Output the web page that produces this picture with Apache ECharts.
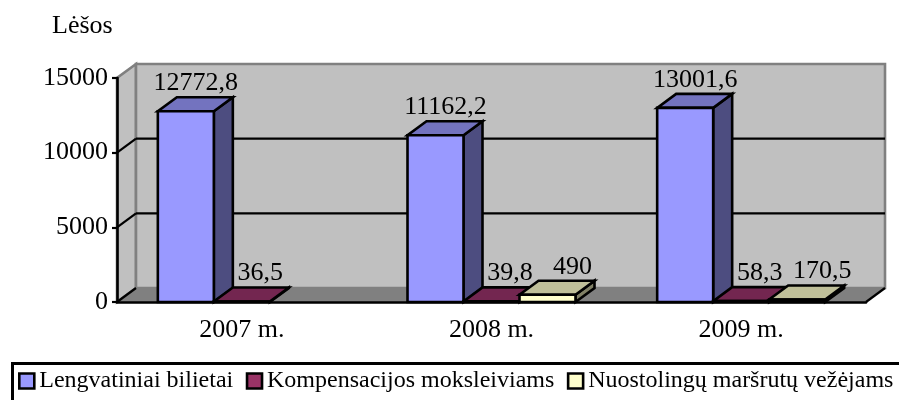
<!DOCTYPE html>
<html><head><meta charset="utf-8">
<style>html,body{margin:0;padding:0;background:#fff}#c{width:899px;height:400px}</style>
<script src="https://cdn.jsdelivr.net/npm/echarts@6/dist/echarts.min.js"></script>
</head><body><div id="c"></div>
<script>
const categories = ['2007 m.', '2008 m.', '2009 m.'];
const lengvatiniai = [12772.8, 11162.2, 13001.6];
const kompensacijos = [36.5, 39.8, 58.3];
const nuostolingu = [null, 490, 170.5];
const yTicks = [0, 5000, 10000, 15000];
const names = ['Lengvatiniai bilietai', 'Kompensacijos moksleiviams', 'Nuostolingų maršrutų vežėjams'];

const FONT = '"Liberation Serif","Times New Roman",serif';
const DX = 19, DY = -14;
const barFrac = 56 / 249.67;
const labelFontSize = 26;
const EDGE = 2.6;

function poly(points, fill, stroke, w) {
  return { type: 'polygon', shape: { points }, style: { fill, stroke: stroke || 'none', lineWidth: w || 0, lineJoin: 'miter' } };
}
function line(a, b, stroke, w) {
  return { type: 'line', shape: { x1: a[0], y1: a[1], x2: b[0], y2: b[1] }, style: { stroke, lineWidth: w } };
}
function renderWalls(params, api) {
  const x0 = api.coord([0, 0])[0] - api.size([1, 0])[0] / 2;
  const x1 = x0 + api.size([1, 0])[0] * categories.length;
  const y0 = api.coord([0, 0])[1];
  const yT = api.coord([0, yTicks[yTicks.length - 1]])[1];
  const ch = [
    poly([[x0, y0], [x0 + DX, y0 + DY], [x0 + DX, yT + DY], [x0, yT]], '#C0C0C0', '#808080', 2.6),
    poly([[x0 + DX, yT + DY], [x1 + DX, yT + DY], [x1 + DX, y0 + DY], [x0 + DX, y0 + DY]], '#C0C0C0', '#808080', 2.6),
    poly([[x0, y0], [x1, y0], [x1 + DX, y0 + DY], [x0 + DX, y0 + DY]], '#808080', '#808080', 1)
  ];
  yTicks.slice(1, -1).forEach(v => {
    const y = api.coord([0, v])[1];
    ch.push(line([x0, y], [x0 + DX, y + DY], '#000', 2.2));
    ch.push(line([x0 + DX, y + DY], [x1 + DX, y + DY], '#000', 2.2));
  });
  ch.push(line([x0, y0], [x0 + DX, y0 + DY], '#000', 2.2));
  ch.push(line([x1, y0], [x1 + DX, y0 + DY], '#000', 2.2));
  return { type: 'group', children: ch };
}
function barRenderer(idx, front, top, side, labelShift) {
  return function (params, api) {
    const cat = api.value(0), v = api.value(1);
    if (v == null || isNaN(v)) return;
    const c = api.coord([cat, v]), b = api.coord([cat, 0]);
    const w = api.size([1, 0])[0] * barFrac;
    const xl = c[0] - 1.5 * w + idx * w, xr = xl + w;
    const yt = c[1], yb = b[1];
    const t = String(v).replace('.', ',');
    return { type: 'group', children: [
      poly([[xr, yb], [xr + DX, yb + DY], [xr + DX, yt + DY], [xr, yt]], side, '#000', EDGE),
      poly([[xl, yt], [xr, yt], [xr + DX, yt + DY], [xl + DX, yt + DY]], top, '#000', EDGE),
      poly([[xl, yt], [xr, yt], [xr, yb], [xl, yb]], front, '#000', EDGE),
      { type: 'text', style: { text: t, x: xl + w / 2 + labelShift, y: yt + DY - 14, align: 'center', verticalAlign: 'middle',
        font: labelFontSize + 'px ' + FONT, fill: '#000' } }
    ] };
  };
}
function barSeries(idx, name, values, front, top, side, labelShift) {
  return { type: 'custom', name, z: 3 + idx, clip: false,
    itemStyle: { color: front },
    encode: { x: 0, y: 1 },
    data: values.map((v, i) => [i, v]),
    renderItem: barRenderer(idx, front, top, side, labelShift) };
}
const chart = echarts.init(document.getElementById('c'), null, { renderer: 'canvas' });
chart.setOption({
  animation: false,
  backgroundColor: '#fff',
  textStyle: { fontFamily: FONT, color: '#000' },
  grid: { left: 117, right: 33, top: 78, bottom: 98 },
  xAxis: { type: 'category', data: categories, z: 10,
    axisLine: { lineStyle: { color: '#000', width: 2.6 } },
    axisTick: { alignWithLabel: false, length: 6, lineStyle: { color: '#000', width: 2.2 } },
    axisLabel: { fontFamily: FONT, fontSize: labelFontSize, color: '#000', margin: 15 } },
  yAxis: { type: 'value', min: 0, max: 15000, interval: 5000, z: 10,
    axisLine: { show: true, lineStyle: { color: '#000', width: 2.6 } },
    axisTick: { show: true, length: 5, lineStyle: { color: '#000', width: 2.2 } },
    splitLine: { show: false },
    axisLabel: { fontFamily: FONT, fontSize: labelFontSize, color: '#000', margin: 9, formatter: v => String(v) } },
  legend: { left: 16, top: 367, padding: 2, itemGap: 12.5, itemWidth: 15, itemHeight: 15,
    icon: 'rect', selectedMode: false,
    textStyle: { fontFamily: FONT, fontSize: 24, color: '#000' },
    data: [
      { name: names[0], itemStyle: { color: '#9999FF', borderColor: '#000', borderWidth: 2.6 } },
      { name: names[1], itemStyle: { color: '#993366', borderColor: '#000', borderWidth: 2.6 } },
      { name: names[2], itemStyle: { color: '#FFFFCC', borderColor: '#000', borderWidth: 2.6 } }
    ] },
  graphic: [
    { type: 'rect', left: 10, top: 361, shape: { width: 900, height: 60 }, style: { fill: 'none', stroke: '#000', lineWidth: 3 }, silent: true },
    { type: 'text', left: 52, top: 13, style: { text: 'Lėšos', font: '26px ' + FONT, fill: '#000' }, silent: true }
  ],
  series: [
    { type: 'custom', name: 'walls', z: 1, silent: true, clip: false, encode: { x: 0, y: 1 }, data: [[0, 0]], renderItem: renderWalls },
    barSeries(0, names[0], lengvatiniai, '#9999FF', '#7373BF', '#4D4D80', 10),
    barSeries(1, names[1], kompensacijos, '#993366', '#732650', '#4D1A33', 18.5),
    barSeries(2, names[2], nuostolingu, '#FFFFCC', '#BFBF99', '#808066', 25)
  ]
});
</script></body></html>
